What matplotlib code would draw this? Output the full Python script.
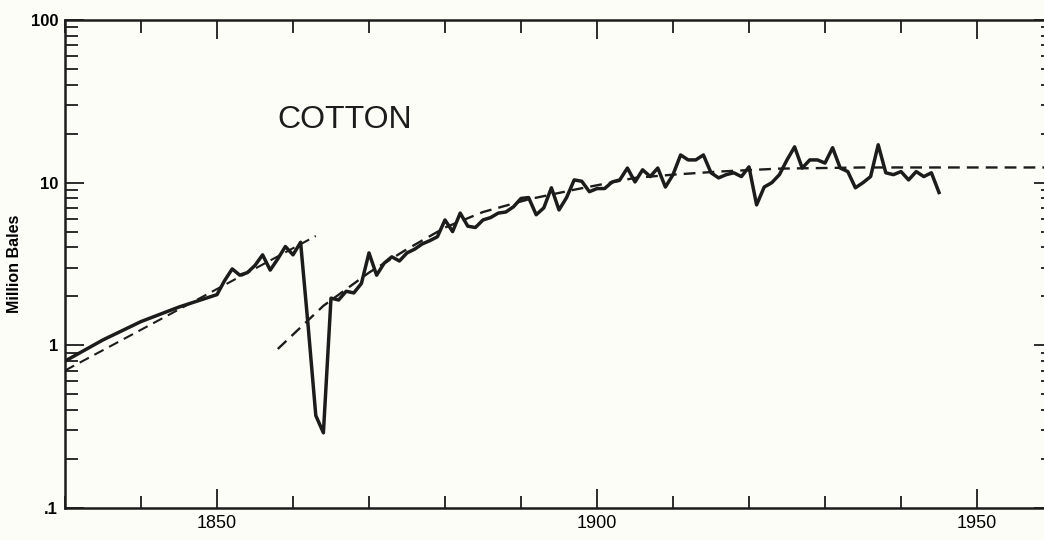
import matplotlib.pyplot as plt
from matplotlib.ticker import FixedLocator, LogLocator, MultipleLocator, NullFormatter

# annual production, million bales
years = [1830, 1835, 1840, 1845, 1850, 1851, 1852, 1853, 1854, 1855,
         1856, 1857, 1858, 1859, 1860, 1861, 1862, 1863, 1864, 1865,
         1866, 1867, 1868, 1869, 1870, 1871, 1872, 1873, 1874, 1875,
         1876, 1877, 1878, 1879, 1880, 1881, 1882, 1883, 1884, 1885,
         1886, 1887, 1888, 1889, 1890, 1891, 1892, 1893, 1894, 1895,
         1896, 1897, 1898, 1899, 1900, 1901, 1902, 1903, 1904, 1905,
         1906, 1907, 1908, 1909, 1910, 1911, 1912, 1913, 1914, 1915,
         1916, 1917, 1918, 1919, 1920, 1921, 1922, 1923, 1924, 1925,
         1926, 1927, 1928, 1929, 1930, 1931, 1932, 1933, 1934, 1935,
         1936, 1937, 1938, 1939, 1940, 1941, 1942, 1943, 1944, 1945]
bales = [0.80, 1.08, 1.40, 1.72, 2.05, 2.5, 2.95, 2.7, 2.8, 3.1,
         3.6, 2.9, 3.4, 4.05, 3.6, 4.3, 1.3, 0.37, 0.29, 1.95,
         1.9, 2.15, 2.1, 2.4, 3.7, 2.7, 3.2, 3.5, 3.3, 3.7,
         3.9, 4.2, 4.4, 4.65, 5.9, 5.0, 6.5, 5.4, 5.3, 5.9,
         6.1, 6.5, 6.6, 7.1, 8.0, 8.1, 6.35, 7.0, 9.3, 6.8,
         8.1, 10.4, 10.2, 8.8, 9.2, 9.2, 10.1, 10.4, 12.3, 10.1,
         12.0, 10.9, 12.3, 9.4, 11.2, 14.8, 13.8, 13.8, 14.8, 11.5,
         10.7, 11.2, 11.5, 10.9, 12.5, 7.3, 9.4, 10.0, 11.2, 13.8,
         16.6, 12.3, 13.8, 13.8, 13.2, 16.4, 12.3, 11.7, 9.3, 10.0,
         10.9, 17.1, 11.5, 11.2, 11.7, 10.4, 11.7, 10.9, 11.5, 8.7]

# trend lines (dashed)
trend1_years = [1830, 1863]
trend1 = [0.70, 4.7]
trend2_years = [1858, 1864, 1870, 1875, 1880, 1885, 1891, 1897, 1905,
                1910, 1916, 1924, 1935, 1960]
trend2 = [0.95, 1.75, 2.8, 3.9, 5.3, 6.6, 7.9, 9.05, 10.7,
          11.2, 11.7, 12.2, 12.4, 12.4]

bg = '#fdfdf8'
ink = '#1c1c1c'
plt.rcParams['font.family'] = ['Liberation Sans', 'DejaVu Sans']

fig = plt.figure(figsize=(10.44, 5.4), dpi=100, facecolor=bg)
ax = fig.add_axes([65 / 1044, 32 / 540, 988 / 1044, 488 / 540], facecolor=bg)

ax.plot(trend1_years, trend1, color=ink, lw=1.5, dashes=(5, 3), zorder=2)
ax.plot(trend2_years, trend2, color=ink, lw=1.7, dashes=(5, 3), zorder=2)
ax.plot(years, bales, color=ink, lw=2.5, zorder=3)

ax.set_yscale('log')
ax.set_xlim(1830, 1960)
ax.set_ylim(0.1, 100)

ax.yaxis.set_major_locator(FixedLocator([0.1, 1, 10, 100]))
ax.set_yticklabels(['.1', '1', '10', '100'])
ax.yaxis.set_minor_locator(LogLocator(base=10, subs=range(2, 10)))
ax.yaxis.set_minor_formatter(NullFormatter())
ax.set_xticks([1850, 1900, 1950])
ax.set_xticklabels(['1850', '1900', '1950'])
ax.xaxis.set_minor_locator(MultipleLocator(10))

ax.tick_params(which='both', direction='in', top=True, right=True,
               color=ink, width=1.3)
ax.tick_params(which='major', length=14, labelsize=13, pad=5)
ax.tick_params(which='minor', length=9)
for lab in ax.get_yticklabels():
    lab.set_fontweight('bold')
    lab.set_fontsize(12)
for sp in ax.spines.values():
    sp.set_linewidth(1.8)
    sp.set_color(ink)

ax.set_ylabel('Million Bales', fontsize=11.5, fontweight='bold', labelpad=6)
ax.text(0.2146, 0.795, 'COTTON', transform=ax.transAxes, fontsize=23,
        va='center', ha='left', color=ink)

fig.savefig('out.png', dpi=100, facecolor=bg)
